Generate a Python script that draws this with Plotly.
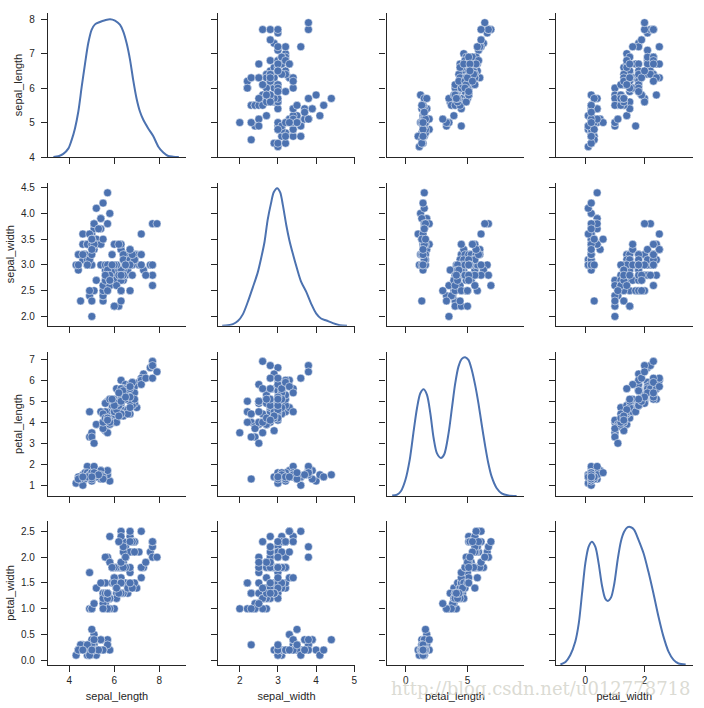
import plotly.graph_objects as go
from plotly.subplots import make_subplots

sepal_length = [
    5.1, 4.9, 4.7, 4.6, 5.0, 5.4, 4.6, 5.0, 4.4, 4.9, 5.4, 4.8, 4.8, 4.3, 5.8, 5.7, 5.4, 5.1, 5.7, 5.1, 5.4, 5.1, 4.6, 5.1, 4.8,
    5.0, 5.0, 5.2, 5.2, 4.7, 4.8, 5.4, 5.2, 5.5, 4.9, 5.0, 5.5, 4.9, 4.4, 5.1, 5.0, 4.5, 4.4, 5.0, 5.1, 4.8, 5.1, 4.6, 5.3, 5.0,
    7.0, 6.4, 6.9, 5.5, 6.5, 5.7, 6.3, 4.9, 6.6, 5.2, 5.0, 5.9, 6.0, 6.1, 5.6, 6.7, 5.6, 5.8, 6.2, 5.6, 5.9, 6.1, 6.3, 6.1, 6.4,
    6.6, 6.8, 6.7, 6.0, 5.7, 5.5, 5.5, 5.8, 6.0, 5.4, 6.0, 6.7, 6.3, 5.6, 5.5, 5.5, 6.1, 5.8, 5.0, 5.6, 5.7, 5.7, 6.2, 5.1, 5.7,
    6.3, 5.8, 7.1, 6.3, 6.5, 7.6, 4.9, 7.3, 6.7, 7.2, 6.5, 6.4, 6.8, 5.7, 5.8, 6.4, 6.5, 7.7, 7.7, 6.0, 6.9, 5.6, 7.7, 6.3, 6.7,
    7.2, 6.2, 6.1, 6.4, 7.2, 7.4, 7.9, 6.4, 6.3, 6.1, 7.7, 6.3, 6.4, 6.0, 6.9, 6.7, 6.9, 5.8, 6.8, 6.7, 6.7, 6.3, 6.5, 6.2, 5.9,
]
sepal_width = [
    3.5, 3.0, 3.2, 3.1, 3.6, 3.9, 3.4, 3.4, 2.9, 3.1, 3.7, 3.4, 3.0, 3.0, 4.0, 4.4, 3.9, 3.5, 3.8, 3.8, 3.4, 3.7, 3.6, 3.3, 3.4,
    3.0, 3.4, 3.5, 3.4, 3.2, 3.1, 3.4, 4.1, 4.2, 3.1, 3.2, 3.5, 3.6, 3.0, 3.4, 3.5, 2.3, 3.2, 3.5, 3.8, 3.0, 3.8, 3.2, 3.7, 3.3,
    3.2, 3.2, 3.1, 2.3, 2.8, 2.8, 3.3, 2.4, 2.9, 2.7, 2.0, 3.0, 2.2, 2.9, 2.9, 3.1, 3.0, 2.7, 2.2, 2.5, 3.2, 2.8, 2.5, 2.8, 2.9,
    3.0, 2.8, 3.0, 2.9, 2.6, 2.4, 2.4, 2.7, 2.7, 3.0, 3.4, 3.1, 2.3, 3.0, 2.5, 2.6, 3.0, 2.6, 2.3, 2.7, 3.0, 2.9, 2.9, 2.5, 2.8,
    3.3, 2.7, 3.0, 2.9, 3.0, 3.0, 2.5, 2.9, 2.5, 3.6, 3.2, 2.7, 3.0, 2.5, 2.8, 3.2, 3.0, 3.8, 2.6, 2.2, 3.2, 2.8, 2.8, 2.7, 3.3,
    3.2, 2.8, 3.0, 2.8, 3.0, 2.8, 3.8, 2.8, 2.8, 2.6, 3.0, 3.4, 3.1, 3.0, 3.1, 3.1, 3.1, 2.7, 3.2, 3.3, 3.0, 2.5, 3.0, 3.4, 3.0,
]
petal_length = [
    1.4, 1.4, 1.3, 1.5, 1.4, 1.7, 1.4, 1.5, 1.4, 1.5, 1.5, 1.6, 1.4, 1.1, 1.2, 1.5, 1.3, 1.4, 1.7, 1.5, 1.7, 1.5, 1.0, 1.7, 1.9,
    1.6, 1.6, 1.5, 1.4, 1.6, 1.6, 1.5, 1.5, 1.4, 1.5, 1.2, 1.3, 1.4, 1.3, 1.5, 1.3, 1.3, 1.3, 1.6, 1.9, 1.4, 1.6, 1.4, 1.5, 1.4,
    4.7, 4.5, 4.9, 4.0, 4.6, 4.5, 4.7, 3.3, 4.6, 3.9, 3.5, 4.2, 4.0, 4.7, 3.6, 4.4, 4.5, 4.1, 4.5, 3.9, 4.8, 4.0, 4.9, 4.7, 4.3,
    4.4, 4.8, 5.0, 4.5, 3.5, 3.8, 3.7, 3.9, 5.1, 4.5, 4.5, 4.7, 4.4, 4.1, 4.0, 4.4, 4.6, 4.0, 3.3, 4.2, 4.2, 4.2, 4.3, 3.0, 4.1,
    6.0, 5.1, 5.9, 5.6, 5.8, 6.6, 4.5, 6.3, 5.8, 6.1, 5.1, 5.3, 5.5, 5.0, 5.1, 5.3, 5.5, 6.7, 6.9, 5.0, 5.7, 4.9, 6.7, 4.9, 5.7,
    6.0, 4.8, 4.9, 5.6, 5.8, 6.1, 6.4, 5.6, 5.1, 5.6, 6.1, 5.6, 5.5, 4.8, 5.4, 5.6, 5.1, 5.1, 5.9, 5.7, 5.2, 5.0, 5.2, 5.4, 5.1,
]
petal_width = [
    0.2, 0.2, 0.2, 0.2, 0.2, 0.4, 0.3, 0.2, 0.2, 0.1, 0.2, 0.2, 0.1, 0.1, 0.2, 0.4, 0.4, 0.3, 0.3, 0.3, 0.2, 0.4, 0.2, 0.5, 0.2,
    0.2, 0.4, 0.2, 0.2, 0.2, 0.2, 0.4, 0.1, 0.2, 0.2, 0.2, 0.2, 0.1, 0.2, 0.2, 0.3, 0.3, 0.2, 0.6, 0.4, 0.3, 0.2, 0.2, 0.2, 0.2,
    1.4, 1.5, 1.5, 1.3, 1.5, 1.3, 1.6, 1.0, 1.3, 1.4, 1.0, 1.5, 1.0, 1.4, 1.3, 1.4, 1.5, 1.0, 1.5, 1.1, 1.8, 1.3, 1.5, 1.2, 1.3,
    1.4, 1.4, 1.7, 1.5, 1.0, 1.1, 1.0, 1.2, 1.6, 1.5, 1.6, 1.5, 1.3, 1.3, 1.3, 1.2, 1.4, 1.2, 1.0, 1.3, 1.2, 1.3, 1.3, 1.1, 1.3,
    2.5, 1.9, 2.1, 1.8, 2.2, 2.1, 1.7, 1.8, 1.8, 2.5, 2.0, 1.9, 2.1, 2.0, 2.4, 2.3, 1.8, 2.2, 2.3, 1.5, 2.3, 2.0, 2.0, 1.8, 2.1,
    1.8, 1.8, 1.8, 2.1, 1.6, 1.9, 2.0, 2.2, 1.5, 1.4, 2.3, 2.4, 1.8, 1.8, 2.1, 2.4, 2.3, 1.9, 2.3, 2.5, 2.3, 1.9, 2.0, 2.3, 1.8,
]

# diagonal density curves in each row's axis units
kde_sl_x = [3.29, 3.51, 3.73, 3.96, 4.10, 4.25, 4.40, 4.55, 4.70, 4.84, 4.99, 5.14, 5.36, 5.59, 5.81, 6.03, 6.25, 6.40, 6.55, 6.70, 6.84, 6.99, 7.14, 7.29, 7.51, 7.73, 7.96, 8.18, 8.40, 8.62, 8.87]
kde_sl_y = [4.00, 4.02, 4.09, 4.25, 4.49, 4.83, 5.32, 6.04, 6.72, 7.30, 7.69, 7.85, 7.92, 7.97, 8.00, 7.96, 7.84, 7.64, 7.30, 6.82, 6.24, 5.70, 5.32, 5.08, 4.83, 4.61, 4.30, 4.13, 4.03, 4.01, 4.00]
kde_sw_x = [1.54, 1.69, 1.82, 1.95, 2.08, 2.21, 2.34, 2.47, 2.56, 2.65, 2.73, 2.82, 2.89, 2.98, 3.06, 3.13, 3.22, 3.30, 3.39, 3.50, 3.61, 3.74, 3.87, 4.00, 4.13, 4.27, 4.44, 4.62, 4.81]
kde_sw_y = [1.82, 1.83, 1.85, 1.91, 2.04, 2.28, 2.56, 2.85, 3.13, 3.45, 3.87, 4.20, 4.41, 4.49, 4.41, 4.16, 3.77, 3.48, 3.22, 2.93, 2.67, 2.48, 2.25, 2.06, 1.96, 1.92, 1.87, 1.83, 1.82]
kde_pl_x = [-1.10, -0.70, -0.38, -0.03, 0.32, 0.65, 0.91, 1.18, 1.45, 1.72, 1.99, 2.26, 2.53, 2.85, 3.12, 3.47, 3.74, 4.01, 4.27, 4.54, 4.81, 5.08, 5.35, 5.62, 5.89, 6.16, 6.42, 6.69, 6.96, 7.37, 7.77, 8.31, 8.98]
kde_pl_y = [0.51, 0.56, 0.73, 1.25, 2.21, 3.63, 4.67, 5.38, 5.57, 5.30, 4.43, 3.24, 2.52, 2.30, 2.48, 3.48, 4.67, 5.86, 6.65, 7.02, 7.10, 6.97, 6.49, 5.78, 4.90, 3.87, 2.92, 2.05, 1.41, 0.86, 0.62, 0.52, 0.49]
kde_pw_x = [-0.84, -0.67, -0.51, -0.34, -0.22, -0.11, 0.00, 0.11, 0.22, 0.34, 0.45, 0.56, 0.67, 0.76, 0.87, 0.98, 1.09, 1.20, 1.31, 1.43, 1.54, 1.65, 1.80, 1.97, 2.13, 2.30, 2.47, 2.64, 2.81, 2.98, 3.15, 3.39]
kde_pw_y = [-0.08, -0.03, 0.10, 0.36, 0.72, 1.30, 1.88, 2.20, 2.30, 2.20, 1.88, 1.46, 1.20, 1.15, 1.22, 1.49, 1.94, 2.30, 2.49, 2.58, 2.58, 2.53, 2.33, 2.07, 1.72, 1.30, 0.85, 0.46, 0.17, 0.01, -0.06, -0.08]

names = ['sepal_length', 'sepal_width', 'petal_length', 'petal_width']
values = [sepal_length, sepal_width, petal_length, petal_width]
kde_x = [kde_sl_x, kde_sw_x, kde_pl_x, kde_pw_x]
kde_y = [kde_sl_y, kde_sw_y, kde_pl_y, kde_pw_y]

x_ticks = [[4, 6, 8], [2, 3, 4, 5], [0, 5], [0, 2]]
y_ticks = [
    [4, 5, 6, 7, 8],
    [2.0, 2.5, 3.0, 3.5, 4.0, 4.5],
    [1, 2, 3, 4, 5, 6, 7],
    [0.0, 0.5, 1.0, 1.5, 2.0, 2.5],
]
y_labels = [
    ['4', '5', '6', '7', '8'],
    ['2.0', '2.5', '3.0', '3.5', '4.0', '4.5'],
    ['1', '2', '3', '4', '5', '6', '7'],
    ['0.0', '0.5', '1.0', '1.5', '2.0', '2.5'],
]
x_ranges = [[3.05, 9.19], [1.43, 5.02], [-1.56, 9.54], [-0.99, 3.62]]
y_ranges = [[4.0, 8.18], [1.82, 4.6], [0.476, 7.36], [-0.09, 2.70]]

BLUE = '#4C72B0'
DARK = '#262626'
FONT = 'Liberation Sans'
WIDTH, HEIGHT = 704, 708

# panel edges in pixels
col_left = [48, 218, 386.5, 556]
col_right = [186, 355, 523.5, 692.5]
row_top = [13, 182.5, 351.7, 521]
row_bottom = [157, 325.7, 496.3, 665]

fig = make_subplots(rows=4, cols=4)

for r in range(4):
    for c in range(4):
        if r == c:
            fig.add_trace(go.Scatter(
                x=kde_x[c], y=kde_y[r], mode='lines',
                line=dict(color=BLUE, width=2, shape='spline', smoothing=0.8),
            ), row=r + 1, col=c + 1)
        else:
            fig.add_trace(go.Scatter(
                x=values[c], y=values[r], mode='markers',
                marker=dict(color=BLUE, size=8, line=dict(color='white', width=0.5)),
            ), row=r + 1, col=c + 1)

        fig.update_xaxes(
            domain=[col_left[c] / WIDTH, col_right[c] / WIDTH],
            range=x_ranges[c], tickvals=x_ticks[c], automargin=False,
            showticklabels=r == 3, title_text=names[c] if r == 3 else None,
            title_standoff=7, title_font=dict(size=11, color=DARK),
            showgrid=False, zeroline=False, showline=True, linecolor=DARK, linewidth=1.25,
            ticks='outside', ticklen=6, tickwidth=1.25, tickcolor=DARK,
            tickfont=dict(size=10, color=DARK),
            row=r + 1, col=c + 1,
        )
        fig.update_yaxes(
            domain=[1 - row_bottom[r] / HEIGHT, 1 - row_top[r] / HEIGHT],
            range=y_ranges[r], tickvals=y_ticks[r], ticktext=y_labels[r], automargin=False,
            showticklabels=c == 0, title_text=names[r] if c == 0 else None,
            title_standoff=4, title_font=dict(size=11, color=DARK),
            showgrid=False, zeroline=False, showline=True, linecolor=DARK, linewidth=1.25,
            ticks='outside', ticklen=6, tickwidth=1.25, tickcolor=DARK,
            tickfont=dict(size=10, color=DARK), ticklabelstandoff=4,
            row=r + 1, col=c + 1,
        )

# blog watermark across the bottom right corner
fig.add_annotation(
    text='http://blog.csdn.net/u012778718', xref='paper', yref='paper',
    x=693 / WIDTH, y=1 - 688 / HEIGHT, xanchor='right', yanchor='middle',
    showarrow=False, font=dict(family='DejaVu Serif', size=18, color='rgba(210,210,200,0.8)'),
)

fig.update_layout(
    width=WIDTH, height=HEIGHT, margin=dict(l=0, r=0, t=0, b=0),
    paper_bgcolor='white', plot_bgcolor='white', showlegend=False,
    font=dict(family=FONT, color=DARK),
)

fig.write_html('out.html', config={'displayModeBar': False}, post_script="document.body.style.margin='0';")
